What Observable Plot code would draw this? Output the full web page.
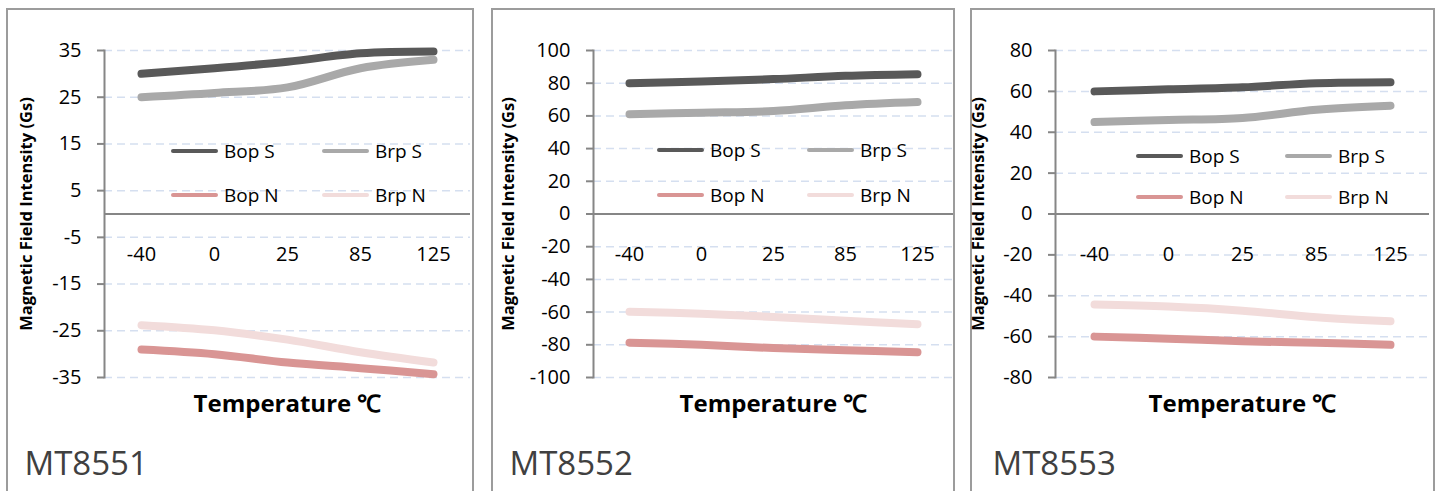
<!DOCTYPE html>
<html>
<head>
<meta charset="utf-8">
<script src="https://cdn.jsdelivr.net/npm/d3@7"></script>
<script src="https://cdn.jsdelivr.net/npm/@observablehq/plot@0.6"></script>
<style>
  body { margin: 0; background: #fff; font-family: "Open Sans", sans-serif; }
  #wrap { position: relative; width: 1439px; height: 491px; overflow: hidden; background: #fff; }
  .box { position: absolute; top: 8px; height: 500px; border: 2px solid #9c9c9c; border-bottom: none; box-sizing: border-box; }
  .box svg { position: absolute; left: 0; top: 0; overflow: visible; }
  .leg { position: absolute; display: flex; align-items: center; height: 28px; font-size: 19px; color: #000; white-space: nowrap; }
  .leg .sw { display: inline-block; width: 47px; height: 4px; border-radius: 2px; margin-right: 6px; }
</style>
</head>
<body>
<div id="wrap"></div>
<script>
// ---------- data ----------
const temps = ["-40", "0", "25", "85", "125"];
const seriesNames = ["Bop S", "Brp S", "Bop N", "Brp N"];
const seriesColors = ["#595959", "#a9a9a9", "#d99594", "#f2dcdb"];
const models = ["MT8551", "MT8552", "MT8553"];
const yTitle = "Magnetic Field Intensity (Gs)";
const xTitle = "Temperature ℃";

const mt8551BopS = [30, 31.2, 32.6, 34.4, 34.8];
const mt8551BrpS = [25, 25.9, 27.1, 31.2, 33];
const mt8551BopN = [-29, -30, -31.8, -33, -34.3];
const mt8551BrpN = [-23.8, -24.9, -26.9, -29.6, -31.8];
const mt8551Ticks = [35, 25, 15, 5, -5, -15, -25, -35];

const mt8552BopS = [80, 81, 82.5, 84.5, 85.5];
const mt8552BrpS = [61, 62, 63, 66.5, 68.5];
const mt8552BopN = [-78.7, -80, -82, -83.3, -84.5];
const mt8552BrpN = [-59.8, -61, -63, -65.3, -67.5];
const mt8552Ticks = [100, 80, 60, 40, 20, 0, -20, -40, -60, -80, -100];

const mt8553BopS = [60, 61, 62, 64, 64.5];
const mt8553BrpS = [45, 46, 47, 51, 53];
const mt8553BopN = [-60, -61, -62.3, -63, -64];
const mt8553BrpN = [-44.3, -45.3, -47.3, -50.5, -52.5];
const mt8553Ticks = [80, 60, 40, 20, 0, -20, -40, -60, -80];

// ---------- layout ----------
const panels = [
  { name: models[0], series: [mt8551BopS, mt8551BrpS, mt8551BopN, mt8551BrpN], ticks: mt8551Ticks,
    left: 6, width: 468, ml: 96, mr: 2, ytDx: -78, mtX: 16, legRows: [143, 187], legCols: [165, 316] },
  { name: models[1], series: [mt8552BopS, mt8552BrpS, mt8552BopN, mt8552BrpN], ticks: mt8552Ticks,
    left: 491, width: 464, ml: 100, mr: 0, ytDx: -85, mtX: 16, legRows: [142, 187], legCols: [166, 316] },
  { name: models[2], series: [mt8553BopS, mt8553BrpS, mt8553BopN, mt8553BrpN], ticks: mt8553Ticks,
    left: 970, width: 465, ml: 83, mr: 4, ytDx: -77, mtX: 20, legRows: [148, 189], legCols: [166, 315] }
];

const wrap = document.getElementById("wrap");

panels.forEach(p => {
  const box = document.createElement("div");
  box.className = "box";
  box.style.left = p.left + "px";
  box.style.width = p.width + "px";
  wrap.appendChild(box);

  const rows = p.series.flatMap((vals, si) => temps.map((t, i) => ({ t, v: vals[i], s: seriesNames[si] })));
  const yMax = d3.max(p.ticks), yMin = d3.min(p.ticks);

  const chart = Plot.plot({
    width: p.width - 4,
    height: 478,
    marginLeft: p.ml,
    marginRight: p.mr,
    marginTop: 40,
    marginBottom: 111,
    style: { fontFamily: "Open Sans, sans-serif", fontSize: "20px", color: "#000", background: "transparent", overflow: "visible" },
    x: { type: "point", domain: temps, padding: 0.5, axis: null },
    y: { domain: [yMin, yMax], axis: null },
    color: { domain: seriesNames, range: seriesColors },
    marks: [
      Plot.gridY(p.ticks, { stroke: "#d5dff0", strokeOpacity: 1, strokeWidth: 1.5, strokeDasharray: "8,5" }),
      Plot.ruleY([0], { stroke: "#868686", strokeWidth: 2 }),
      Plot.frame({ anchor: "left", stroke: "#868686", strokeWidth: 2 }),
      Plot.axisY(p.ticks, { tickSize: 7, tickPadding: 16, stroke: "#868686", strokeWidth: 2, fontSize: 20, fill: "#000", label: null, tickFormat: d => String(d) }),
      Plot.line(rows, { x: "t", y: "v", z: "s", stroke: "s", strokeWidth: 8, strokeLinecap: "round", strokeLinejoin: "round", curve: "catmull-rom" }),
      Plot.text(temps, { x: d => d, y: () => 0, dy: 41, fontSize: 20, fill: "#000", lineAnchor: "middle" }),
      Plot.text([xTitle], { frameAnchor: "bottom", dy: 27, fontSize: 24, fontWeight: "bold", fill: "#000", lineAnchor: "middle" }),
      Plot.text([yTitle], { frameAnchor: "left", rotate: -90, dx: p.ytDx, fontSize: 16.5, fontWeight: "bold", fill: "#000", textAnchor: "middle", lineAnchor: "middle" }),
      Plot.text([p.name], { frameAnchor: "bottom-left", dx: p.mtX - p.ml, dy: 87, fontSize: 33, fill: "#404040", textAnchor: "start", lineAnchor: "middle" })
    ]
  });
  box.appendChild(chart);

  seriesNames.forEach((s, i) => {
    const leg = document.createElement("div");
    leg.className = "leg";
    leg.style.left = (p.legCols[i % 2] - 2) + "px";
    leg.style.top = (p.legRows[Math.floor(i / 2)] - 2 - 14) + "px";
    const sw = document.createElement("span");
    sw.className = "sw";
    sw.style.background = seriesColors[i];
    if (i >= 2) sw.style.height = "3.5px";
    const tx = document.createElement("span");
    tx.textContent = s;
    leg.appendChild(sw);
    leg.appendChild(tx);
    box.appendChild(leg);
  });
});
</script>
</body>
</html>
